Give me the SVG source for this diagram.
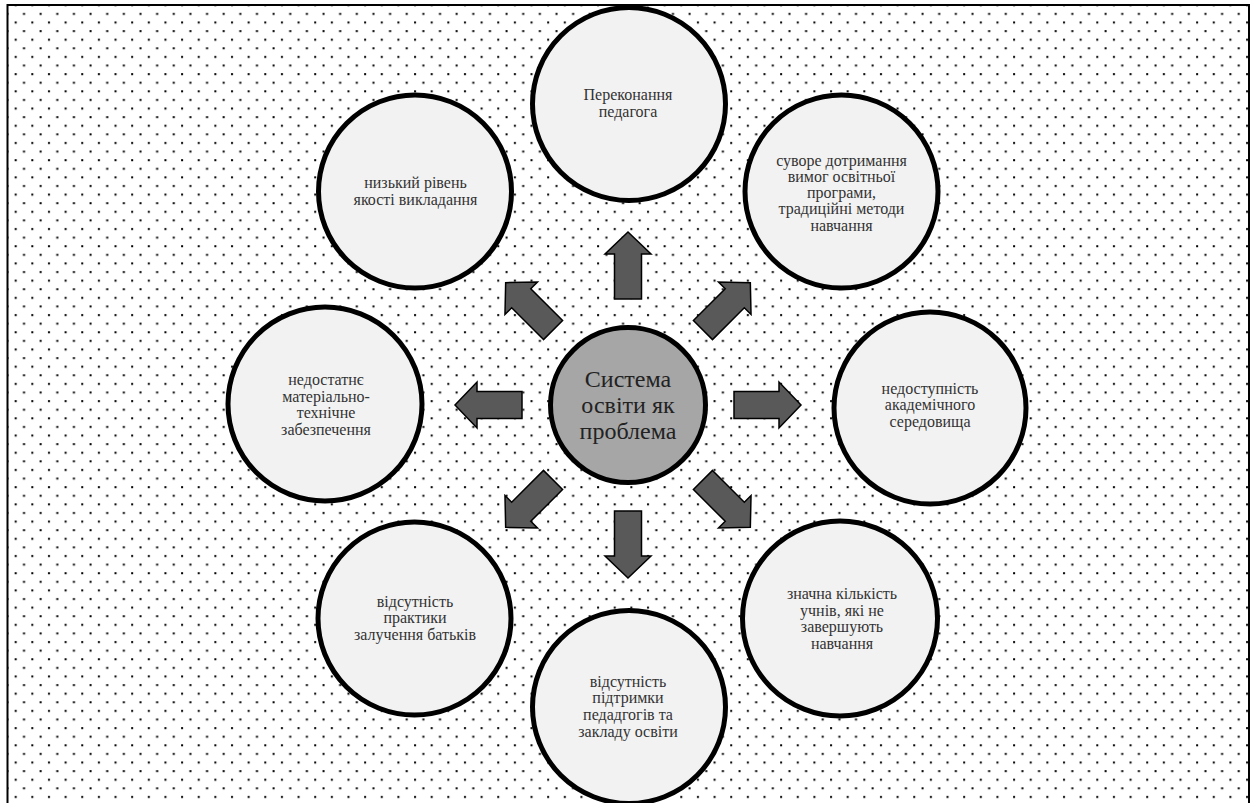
<svg xmlns="http://www.w3.org/2000/svg" xmlns:xlink="http://www.w3.org/1999/xlink" width="1255" height="803" viewBox="0 0 1255 803">
<defs>
<pattern id="dots" patternUnits="userSpaceOnUse" x="11.7" y="1.3" width="16.64" height="17.21">
<rect x="3" y="3" width="2" height="2" fill="#000"/>
<rect x="11.32" y="11.6" width="2" height="2" fill="#000"/>
</pattern>
<path id="arr" d="M106,-13.5 L151,-13.5 L151,-23 L173,0 L151,23 L151,13.5 L106,13.5 Z"/>
</defs>
<style>
.node circle{fill:#f2f2f2;stroke:#000;stroke-width:5}
.node text{font-family:"Liberation Serif","Tinos","Times New Roman","DejaVu Serif",serif;font-size:16px;fill:#333;text-anchor:middle}
#center circle{fill:#a6a6a6;stroke:#000;stroke-width:5}
#center text{font-family:"Liberation Serif","Tinos","Times New Roman","DejaVu Serif",serif;font-size:24px;fill:#222;text-anchor:middle}
#connectors use{fill:#595959;stroke:#000;stroke-width:1.5;stroke-linejoin:miter}
</style>
<rect x="0" y="0" width="1255" height="803" fill="#fff"/>
<rect x="7.5" y="5" width="1241.5" height="900" fill="url(#dots)" stroke="#000" stroke-width="2"/>

<g id="connectors">
<use xlink:href="#arr" transform="translate(628 405) rotate(-90)"/>
<use xlink:href="#arr" transform="translate(628 405) rotate(-45)"/>
<use xlink:href="#arr" transform="translate(628 405)"/>
<use xlink:href="#arr" transform="translate(628 405) rotate(45)"/>
<use xlink:href="#arr" transform="translate(628 405) rotate(90)"/>
<use xlink:href="#arr" transform="translate(628 405) rotate(135)"/>
<use xlink:href="#arr" transform="translate(628 405) rotate(180)"/>
<use xlink:href="#arr" transform="translate(628 405) rotate(-135)"/>
</g>

<g id="center">
<circle cx="628" cy="405" r="77.5"/>
<text x="628" y="387">Система</text>
<text x="628" y="413">освіти як</text>
<text x="628" y="439">проблема</text>
</g>

<g id="n-top" class="node">
<circle cx="629" cy="104" r="96.5"/>
<text x="628" y="100">Переконання</text>
<text x="628" y="116.7">педагога</text>
</g>

<g id="n-topright" class="node">
<circle cx="841.5" cy="191.5" r="96.5"/>
<text x="841.5" y="165.5">суворе дотримання</text>
<text x="841.5" y="181.8">вимог освітньої</text>
<text x="841.5" y="198.1">програми,</text>
<text x="841.5" y="214.4">традиційні методи</text>
<text x="841.5" y="230.7">навчання</text>
</g>

<g id="n-topleft" class="node">
<circle cx="415" cy="191.5" r="96.5"/>
<text x="415.5" y="188">низький рівень</text>
<text x="415.5" y="204.7">якості викладання</text>
</g>

<g id="n-left" class="node">
<circle cx="325" cy="404" r="97"/>
<text x="326" y="385">недостатнє</text>
<text x="326" y="401.7">матеріально-</text>
<text x="326" y="418.4">технічне</text>
<text x="326" y="435.1">забезпечення</text>
</g>

<g id="n-right" class="node">
<circle cx="930" cy="408" r="96"/>
<text x="930" y="394">недоступність</text>
<text x="930" y="410.3">академічного</text>
<text x="930" y="426.6">середовища</text>
</g>

<g id="n-bottomright" class="node">
<circle cx="840" cy="618.5" r="97.5"/>
<text x="842" y="599">значна кількість</text>
<text x="842" y="615.7">учнів, які не</text>
<text x="842" y="632.4">завершують</text>
<text x="842" y="649.1">навчання</text>
</g>

<g id="n-bottom" class="node">
<circle cx="629" cy="707" r="96.5"/>
<text x="628" y="686.5">відсутність</text>
<text x="628" y="703.2">підтримки</text>
<text x="628" y="719.9">педадгогів та</text>
<text x="628" y="736.6">закладу освіти</text>
</g>

<g id="n-bottomleft" class="node">
<circle cx="414.5" cy="618.5" r="96.5"/>
<text x="415" y="606.5">відсутність</text>
<text x="415" y="623.2">практики</text>
<text x="415" y="639.9">залучення батьків</text>
</g>
</svg>
